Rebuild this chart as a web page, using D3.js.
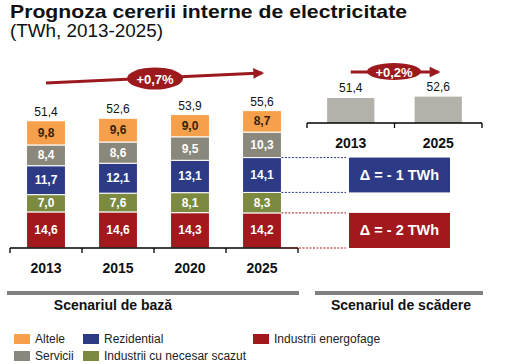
<!DOCTYPE html>
<html><head><meta charset="utf-8">
<script src="https://cdn.jsdelivr.net/npm/d3@7"></script>
<style>body{margin:0;background:#fff}svg{display:block;font-family:"Liberation Sans",Arial,sans-serif}</style>
</head><body>
<svg id="c" width="512" height="364"></svg>
<script>
// ---- data ----
const years = ["2013","2015","2020","2025"];
const seriesNames = ["Industrii energofage","Industrii cu necesar scazut","Rezidential","Servicii","Altele"];
const energofage = [14.6,14.6,14.3,14.2];
const necesarScazut = [7.0,7.6,8.1,8.3];
const rezidential = [11.7,12.1,13.1,14.1];
const servicii = [8.4,8.6,9.5,10.3];
const altele = [9.8,9.6,9.0,8.7];
const totals = [51.4,52.6,53.9,55.6];
const growthBase = "+0,7%";
const lowYears = ["2013","2025"];
const lowTotals = [51.4,52.6];
const growthLow = "+0,2%";
const deltaLabels = ["Δ = - 1 TWh","Δ = - 2 TWh"];
const legendRow1 = ["Altele","Rezidential","Industrii energofage"];
const legendRow2 = ["Servicii","Industrii cu necesar scazut"];

const colors = {"Industrii energofage":"#a3181d","Industrii cu necesar scazut":"#7b8a3f","Rezidential":"#2d3a86","Servicii":"#8a877c","Altele":"#f6a04c"};
const darkRed = "#9c1a1e";

const svg = d3.select("#c");

// title
svg.append("text").attr("x",10).attr("y",18).attr("font-size",18.5).attr("font-weight","bold").attr("fill","#111")
  .attr("textLength",397).attr("lengthAdjust","spacingAndGlyphs").text("Prognoza cererii interne de electricitate");
svg.append("text").attr("x",10).attr("y",37).attr("font-size",18).attr("fill","#111")
  .attr("textLength",153).attr("lengthAdjust","spacingAndGlyphs").text("(TWh, 2013-2025)");

// markers
const defs = svg.append("defs");
defs.append("marker").attr("id","ah").attr("viewBox","0 0 10 10").attr("refX",8).attr("refY",5)
  .attr("markerWidth",4).attr("markerHeight",3.6).attr("orient","auto")
  .append("path").attr("d","M0,0L10,5L0,10z").attr("fill",darkRed);

// ---- base scenario ----
const x = d3.scaleBand().domain(years).range([10,298]).paddingInner(0.46).paddingOuter(0.23);
const y = d3.scaleLinear().domain([0,60]).range([248, 248-60*127/51.4]);

const rows = years.map((yr,i)=>({year:yr,"Industrii energofage":energofage[i],"Industrii cu necesar scazut":necesarScazut[i],"Rezidential":rezidential[i],"Servicii":servicii[i],"Altele":altele[i]}));
const stacked = d3.stack().keys(seriesNames)(rows);

const g = svg.append("g");
stacked.forEach(s=>{
  g.selectAll(null).data(s).join("rect")
    .attr("x",d=>x(d.data.year)).attr("width",x.bandwidth())
    .attr("y",d=>y(d[1])).attr("height",d=>y(d[0])-y(d[1]))
    .attr("fill",colors[s.key]).attr("stroke","#fff").attr("stroke-width",1);
  g.selectAll(null).data(s).join("text")
    .attr("x",d=>x(d.data.year)+x.bandwidth()/2).attr("y",d=>(y(d[0])+y(d[1]))/2+4)
    .attr("text-anchor","middle").attr("font-size",12).attr("font-weight","bold")
    .attr("fill",s.key==="Altele"?"#3a1f05":"#fff")
    .text(d=>d3.format(".1f")(d[1]-d[0]).replace(".",","));
});
g.selectAll(null).data(years).join("text")
  .attr("x",d=>x(d)+x.bandwidth()/2).attr("y",(d,i)=>y(totals[i])-5)
  .attr("text-anchor","middle").attr("font-size",12).attr("fill","#111")
  .text((d,i)=>d3.format(".1f")(totals[i]).replace(".",","));

// axis
const [x0,x1] = x.range();
const step = x.step();
const bx = d3.range(years.length+1).map(i=>x0+i*step);
g.append("line").attr("x1",x0).attr("x2",x1).attr("y1",y(0)).attr("y2",y(0)).attr("stroke","#000").attr("stroke-width",1.3);
g.selectAll(null).data(bx).join("line").attr("x1",d=>d).attr("x2",d=>d).attr("y1",y(0)).attr("y2",y(0)+5).attr("stroke","#000").attr("stroke-width",1.3);
g.selectAll(null).data(years).join("text").attr("x",d=>x(d)+x.bandwidth()/2).attr("y",273)
  .attr("text-anchor","middle").attr("font-size",14).attr("font-weight","bold").attr("fill","#111").text(d=>d);

// growth arrow
const ax0 = x(years[0])+x.bandwidth()/2, ax1 = x(years[3])+x.bandwidth()/2;
g.append("line").attr("x1",ax0).attr("y1",83).attr("x2",ax1).attr("y2",73).attr("stroke",darkRed).attr("stroke-width",3).attr("marker-end","url(#ah)");
g.append("ellipse").attr("cx",155).attr("cy",78.5).attr("rx",28).attr("ry",11).attr("fill",darkRed);
g.append("text").attr("x",155).attr("y",83.5).attr("text-anchor","middle").attr("font-size",13).attr("font-weight","bold").attr("fill","#fff").text(growthBase);

// ---- low scenario ----
const x2 = d3.scaleBand().domain(lowYears).range([307,482]).paddingInner(0.46).paddingOuter(0.23);
const y2 = d3.scaleLinear().domain([30,60]).range([123,88]);
const g2 = svg.append("g");
g2.selectAll(null).data(lowYears).join("rect")
  .attr("x",d=>x2(d)).attr("width",x2.bandwidth())
  .attr("y",(d,i)=>y2(lowTotals[i])).attr("height",(d,i)=>y2(30)-y2(lowTotals[i])).attr("fill","#b3b1a9");
g2.selectAll(null).data(lowYears).join("text")
  .attr("x",d=>x2(d)+x2.bandwidth()/2).attr("y",(d,i)=>y2(lowTotals[i])-6)
  .attr("text-anchor","middle").attr("font-size",12).attr("fill","#111")
  .text((d,i)=>d3.format(".1f")(lowTotals[i]).replace(".",","));
const [u0,u1] = x2.range();
const bx2 = d3.range(lowYears.length+1).map(i=>u0+i*x2.step());
g2.append("line").attr("x1",u0).attr("x2",u1).attr("y1",y2(30)).attr("y2",y2(30)).attr("stroke","#000").attr("stroke-width",1.3);
g2.selectAll(null).data(bx2).join("line").attr("x1",d=>d).attr("x2",d=>d).attr("y1",y2(30)).attr("y2",y2(30)+5).attr("stroke","#000").attr("stroke-width",1.3);
g2.selectAll(null).data(lowYears).join("text").attr("x",d=>x2(d)+x2.bandwidth()/2).attr("y",148)
  .attr("text-anchor","middle").attr("font-size",14).attr("font-weight","bold").attr("fill","#111").text(d=>d);
const bx0 = x2(lowYears[0])+x2.bandwidth()/2, bx1 = x2(lowYears[1])+x2.bandwidth()/2;
g2.append("line").attr("x1",bx0).attr("y1",72).attr("x2",bx1).attr("y2",72).attr("stroke",darkRed).attr("stroke-width",3).attr("marker-end","url(#ah)");
g2.append("ellipse").attr("cx",394).attr("cy",71.5).attr("rx",27).attr("ry",8.5).attr("fill",darkRed);
g2.append("text").attr("x",394).attr("y",76.5).attr("text-anchor","middle").attr("font-size",13).attr("font-weight","bold").attr("fill","#fff").text(growthLow);

// ---- delta boxes tied to 2025 segments ----
const last = years.length-1;
const segRez = stacked[2][last], segEn = stacked[0][last];
const barRight = x(years[last])+x.bandwidth();
const boxX = 349, boxW = 101;
[[segRez,colors["Rezidential"],deltaLabels[0]],[segEn,colors["Industrii energofage"],deltaLabels[1]]].forEach(([seg,c,lab])=>{
  const t = y(seg[1]), b = y(seg[0]);
  [t,b].forEach(yy=>svg.append("line").attr("x1",barRight).attr("x2",boxX-3).attr("y1",yy).attr("y2",yy)
     .attr("stroke",c).attr("stroke-width",1).attr("stroke-dasharray","2,1.5"));
  svg.append("rect").attr("x",boxX).attr("y",t).attr("width",boxW).attr("height",b-t).attr("fill",c);
  svg.append("text").attr("x",boxX+boxW/2).attr("y",(t+b)/2+5).attr("text-anchor","middle")
    .attr("font-size",14.5).attr("font-weight","bold").attr("fill","#fff").text(lab);
});

// ---- scenario bars ----
svg.append("rect").attr("x",7).attr("y",291).attr("width",292).attr("height",4).attr("fill","#808080");
svg.append("rect").attr("x",315).attr("y",291).attr("width",168).attr("height",4).attr("fill","#808080");
svg.append("text").attr("x",113).attr("y",310).attr("text-anchor","middle").attr("font-size",14).attr("font-weight","bold").attr("fill","#111").text("Scenariul de bază");
svg.append("text").attr("x",401).attr("y",310).attr("text-anchor","middle").attr("font-size",14).attr("font-weight","bold").attr("fill","#111").text("Scenariul de scădere");

// ---- legend ----
const lx = [14,83,253];
function legendRow(items, yy){
  items.forEach((name,i)=>{
    svg.append("rect").attr("x",lx[i]).attr("y",yy-5).attr("width",16).attr("height",10).attr("fill",colors[name]);
    svg.append("text").attr("x",lx[i]+21).attr("y",yy+4).attr("font-size",12).attr("fill","#222").text(name);
  });
}
legendRow(legendRow1,339);
legendRow(legendRow2,356);
</script>
</body></html>
